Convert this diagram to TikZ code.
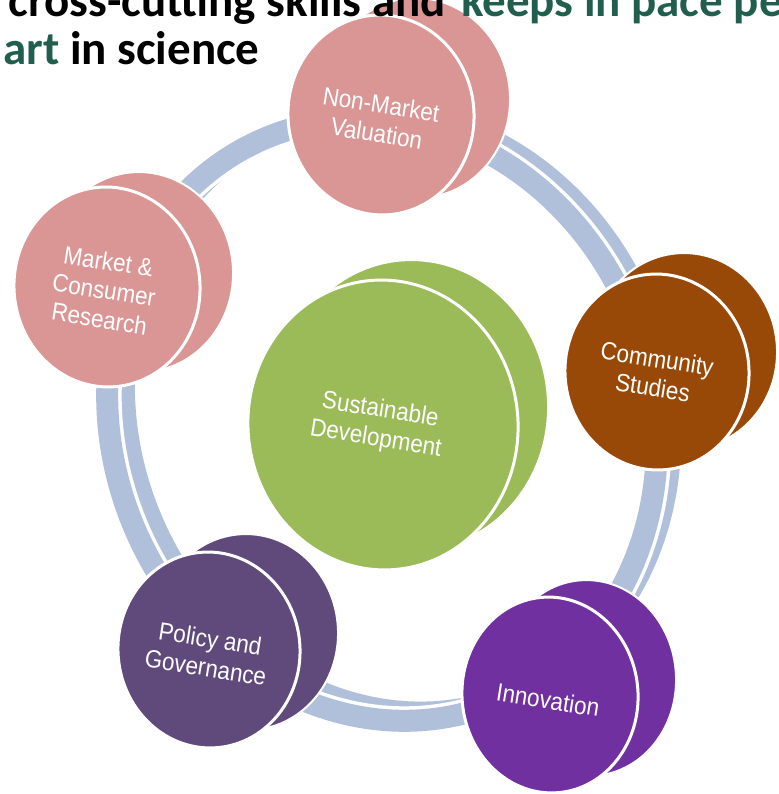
\documentclass[tikz,border=0pt]{standalone}
\usepackage{fontspec}
\setmainfont{Liberation Sans}
\newfontfamily\titlefont{Carlito}
\definecolor{pinkc}{HTML}{D99694}
\definecolor{brownc}{HTML}{984807}
\definecolor{greenc}{HTML}{9BBB59}
\definecolor{policyc}{HTML}{604A7B}
\definecolor{innoc}{HTML}{7030A0}
\definecolor{ringc}{HTML}{B0C0DA}
\definecolor{titlegreen}{HTML}{215E4E}
\newcommand\disctextfont{\fontsize{25}{29}\selectfont}
\newcommand\titlefnt{\titlefont\bfseries\fontsize{47}{56}\selectfont}
\tikzset{
  disctext/.style={text=white, font=\disctextfont, align=center, rotate=-9, inner sep=0pt, xscale=0.9},
  titletext/.style={font=\titlefnt, inner sep=0pt},
  ringback/.style={draw=ringc, line width=22pt},
  ringedge/.style={draw=white, line width=29pt},
  backface/.style={draw=white, line width=2pt},
  frontface/.style={draw=white, line width=3pt},
}
% #1 x, #2 y, #3 rx, #4 ry, #5 colour, #6 dx, #7 dy
\newcommand\mydisc[7]{%
  \fill[#5, backface, rotate around={5:({#1+#6},{#2+#7})}] ({#1+#6},{#2+#7}) ellipse [x radius=#3pt, y radius=#4pt];
  \fill[#5, frontface, rotate around={5:(#1,#2)}] (#1,#2) ellipse [x radius=#3pt, y radius=#4pt];
}
\begin{document}
\begin{tikzpicture}[x=1pt,y=1pt]
\useasboundingbox (0,0) rectangle (778,794);
\clip (0,0) rectangle (778,794);
\fill[white] (0,0) rectangle (778,794);
% ring: back copy, then front copy with white edge
\draw[ringback, rotate around={-69:(397,382)}] (397,382) ellipse [x radius=305pt, y radius=268pt];
\draw[ringedge, rotate around={-69:(382,374)}] (382,374) ellipse [x radius=305pt, y radius=270pt];
\draw[ringback, rotate around={-69:(382,374)}] (382,374) ellipse [x radius=305pt, y radius=270pt];
% discs
\mydisc{383}{369}{135}{145}{greenc}{30}{20}
\mydisc{381}{679}{93}{100}{pinkc}{36}{17}
\mydisc{107}{507}{93}{100}{pinkc}{33}{15}
\mydisc{657}{422}{92}{98}{brownc}{28}{21}
\mydisc{209}{144}{91}{98}{policyc}{38}{18}
\mydisc{550}{99}{88}{98}{innoc}{38}{17}
% labels
\node[disctext] (nmv) at (379,675) {Non-Market\\Valuation};
\node[disctext] (mcr) at (104,504) {Market \&\\Consumer\\Research};
\node[disctext] (cs) at (655,421) {Community\\Studies};
\node[disctext] (sd) at (378,369) {Sustainable\\Development};
\node[disctext] (pg) at (208,141) {Policy and\\Governance};
\node[disctext] (inn) at (548,94) {Innovation};
% title
\node[titletext, anchor=base east] (t1a) at (446,777) {cross-cutting skills and};
\node[titletext, anchor=base west, text=titlegreen] (t1b) at (461,777) {keeps in pace pe};
\node[titletext, anchor=base west] (t2) at (3,729) {\textcolor{titlegreen}{art} in science};
\end{tikzpicture}
\end{document}
